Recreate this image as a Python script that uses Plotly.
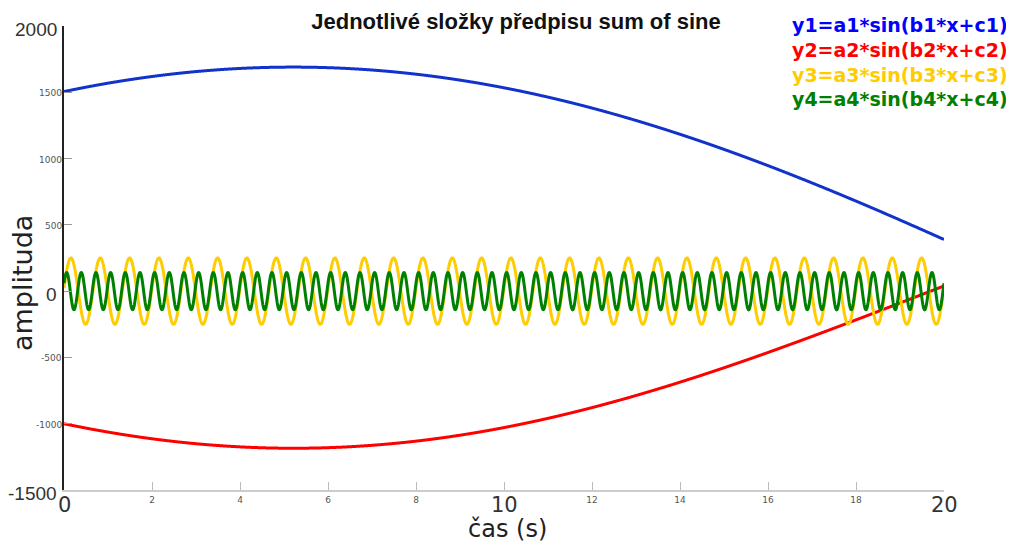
import numpy as np
import plotly.graph_objects as go

# Component parameters: y = a*sin(b*x + c)
names = ["y1=a1*sin(b1*x+c1)", "y2=a2*sin(b2*x+c2)", "y3=a3*sin(b3*x+c3)", "y4=a4*sin(b4*x+c4)"]
amplitudes = [1690, 1185, 250, 140]
frequencies = [0.0905, 0.1085, 9.4248, 18.8496]
phases = [1.099, -2.137, 0.091, 0.44]
line_colors = ["#1133cc", "#ff0000", "#ffcc00", "#008000"]
legend_colors = ["#0000ff", "#ff0000", "#ffcc00", "#008000"]

x_range = [0, 20]
y_range = [-1500, 2000]
x_tickvals = [0, 2, 4, 6, 8, 10, 12, 14, 16, 18, 20]
x_big = [0, 10, 20]
y_tickvals = [-1500, -1000, -500, 0, 500, 1000, 1500, 2000]
y_big = [-1500, 0, 2000]

# the page body adds an 8px offset; the figure is sized to compensate
OFF = 8
W, H = 1014 - OFF, 544 - OFF

t = np.linspace(0, 20, 3001)

fig = go.Figure()
for a, b, c, col, nm in zip(amplitudes, frequencies, phases, line_colors, names):
    fig.add_trace(go.Scatter(x=t, y=a * np.sin(b * t + c), mode="lines",
                             line=dict(color=col, width=3, simplify=False), name=nm, showlegend=False))

fig.update_xaxes(range=x_range, tickvals=x_tickvals,
                 ticktext=["" if v in x_big else str(v) for v in x_tickvals],
                 ticks="inside", ticklen=8, tickcolor="#bbbbbb", tickwidth=1,
                 showline=True, linecolor="#cccccc", linewidth=2,
                 showgrid=False, zeroline=False, automargin=False,
                 tickfont=dict(family="DejaVu Sans", size=9, color="#555"))
fig.update_yaxes(range=y_range, tickvals=y_tickvals, showticklabels=False,
                 ticks="inside", ticklen=8, tickcolor="#999999", tickwidth=1,
                 showline=True, linecolor="#222222", linewidth=2,
                 showgrid=False, zeroline=False, automargin=False)

# large tick labels
for v in x_big:
    fig.add_annotation(text=str(v), xref="x", yref="paper", x=v, y=0, yshift=-15,
                       xanchor="center", yanchor="middle", showarrow=False,
                       font=dict(family="DejaVu Sans", size=21, color="#333"))
for v in y_tickvals:
    if v in y_big:
        fig.add_annotation(text=str(v), xref="paper", yref="y", x=0, y=v, xshift=-5, yshift=-3,
                           xanchor="right", yanchor="middle", showarrow=False,
                           font=dict(family="Liberation Sans", size=19, color="#333"))
    else:
        fig.add_annotation(text=str(v), xref="paper", yref="y", x=0, y=v, xshift=0, yshift=-1,
                           xanchor="right", yanchor="middle", showarrow=False,
                           font=dict(family="DejaVu Sans", size=9, color="#555"))

# axis titles placed as in the reference
fig.add_annotation(text="amplituda", xref="paper", yref="paper",
                   x=(22 - 64) / 880, y=(490 - 283) / 464, textangle=-90,
                   xanchor="center", yanchor="middle", showarrow=False,
                   font=dict(family="DejaVu Sans", size=27, color="#222"))
fig.add_annotation(text="čas (s)", xref="paper", yref="paper",
                   x=(507 - 64) / 880, y=(490 - 529) / 464,
                   xanchor="center", yanchor="middle", showarrow=False,
                   font=dict(family="DejaVu Sans", size=24, color="#222"))

for i, (nm, col) in enumerate(zip(names, legend_colors)):
    py = [25, 50, 75, 99][i]
    fig.add_annotation(text=f"<b>{nm}</b>", xref="paper", yref="paper",
                       x=(1010 - 64) / 880, y=(490 - py) / 464,
                       xanchor="right", yanchor="middle", showarrow=False,
                       font=dict(family="DejaVu Sans", size=19, color=col))

fig.update_layout(
    width=W, height=H,
    margin=dict(l=64 - OFF, r=70, t=26 - OFF, b=54, autoexpand=False),
    paper_bgcolor="white", plot_bgcolor="white",
    title=dict(text="<b>Jednotlivé složky předpisu sum of sine</b>",
               x=(516 - OFF) / W, y=1 - (21 - OFF) / H, xanchor="center", yanchor="middle",
               font=dict(family="Liberation Sans", size=22, color="#111")),
)

fig.write_html("out.html")
